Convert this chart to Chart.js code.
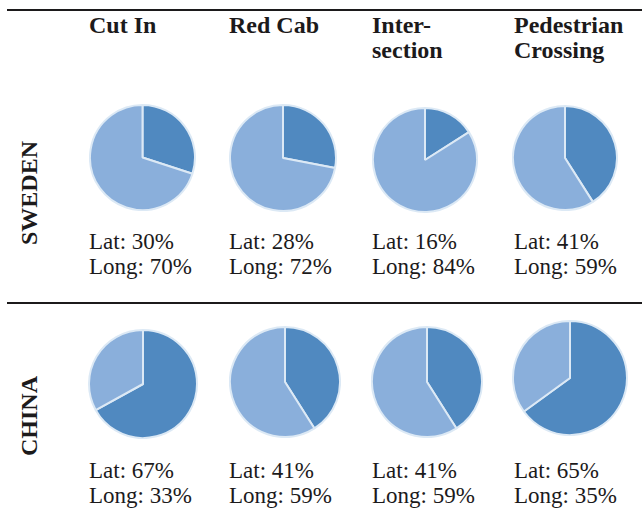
<!DOCTYPE html>
<html>
<head>
<meta charset="utf-8">
<script src="https://cdn.jsdelivr.net/npm/chart.js@4.4.1/dist/chart.umd.min.js"></script>
<style>
  html, body { margin: 0; padding: 0; background: #fff; }
  #board { position: relative; width: 642px; height: 523px; overflow: hidden; color: #1c1a1b; font-family: "Liberation Serif", "Times New Roman", serif; }
  .rule { position: absolute; left: 7px; right: 0; height: 2px; background: #1c1a1b; }
  .head { position: absolute; font-weight: bold; font-size: 24px; line-height: 25px; white-space: pre; }
  .country { position: absolute; font-weight: bold; font-size: 24px; line-height: 24px; transform: translate(-50%, -50%) rotate(-90deg); white-space: nowrap; }
  .pct { position: absolute; font-size: 23px; line-height: 25px; white-space: nowrap; }
  .pie { position: absolute; }
</style>
</head>
<body>
<div id="board">
  <div class="rule" style="top:9px"></div>
  <div class="rule" style="top:302px"></div>
</div>
<script>
// escenarios y países
const scenarios = ["Cut In", "Red Cab", "Inter-\nsection", "Pedestrian\nCrossing"];
const countries = ["SWEDEN", "CHINA"];

// porcentaje lateral / longitudinal por escenario
const latSweden = [30, 28, 16, 41];
const longSweden = [70, 72, 84, 59];
const latChina = [67, 41, 41, 65];
const longChina = [33, 59, 59, 35];

const latByCountry = [latSweden, latChina];
const longByCountry = [longSweden, longChina];

// colores
const colorLat = "#5089c0";
const colorLong = "#8aafdb";
const colorBorde = "#dce9f5";

// posiciones de la grilla
const colX = [89, 229, 372, 514];
const rowLabelY = [193, 416];
const pieCenters = [
  [[142.5, 157.5, 52.5], [282.5, 157.5, 53], [424.5, 160, 52], [565, 157.5, 52]],
  [[143, 383.5, 54], [285, 382, 55], [427, 382, 55], [570, 378, 57]]
];
const textTop = [229, 458];

const board = document.getElementById("board");

// encabezados de columna
scenarios.forEach((s, i) => {
  const d = document.createElement("div");
  d.className = "head";
  d.style.left = colX[i] + "px";
  d.style.top = "13px";
  d.textContent = s;
  board.appendChild(d);
});

countries.forEach((c, r) => {
  // etiqueta del país (vertical)
  const lbl = document.createElement("div");
  lbl.className = "country";
  lbl.style.left = "29px";
  lbl.style.top = rowLabelY[r] + "px";
  lbl.textContent = c;
  board.appendChild(lbl);

  scenarios.forEach((s, i) => {
    const [cx, cy, rad] = pieCenters[r][i];
    const size = Math.round(rad * 2 + 2);

    const wrap = document.createElement("div");
    wrap.className = "pie";
    wrap.style.left = (cx - size / 2) + "px";
    wrap.style.top = (cy - size / 2) + "px";
    wrap.style.width = size + "px";
    wrap.style.height = size + "px";
    const canvas = document.createElement("canvas");
    canvas.width = size;
    canvas.height = size;
    wrap.appendChild(canvas);
    board.appendChild(wrap);

    new Chart(canvas, {
      type: "pie",
      data: {
        labels: ["Lat", "Long"],
        datasets: [{
          data: [latByCountry[r][i], longByCountry[r][i]],
          backgroundColor: [colorLat, colorLong],
          borderColor: colorBorde,
          borderWidth: 2
        }]
      },
      options: {
        responsive: false,
        animation: false,
        layout: { padding: 0 },
        plugins: { legend: { display: false }, tooltip: { enabled: false } }
      }
    });

    // porcentajes bajo cada torta
    const t = document.createElement("div");
    t.className = "pct";
    t.style.left = colX[i] + "px";
    t.style.top = textTop[r] + "px";
    t.innerHTML = "Lat: " + latByCountry[r][i] + "%<br>Long: " + longByCountry[r][i] + "%";
    board.appendChild(t);
  });
});
</script>
</body>
</html>
